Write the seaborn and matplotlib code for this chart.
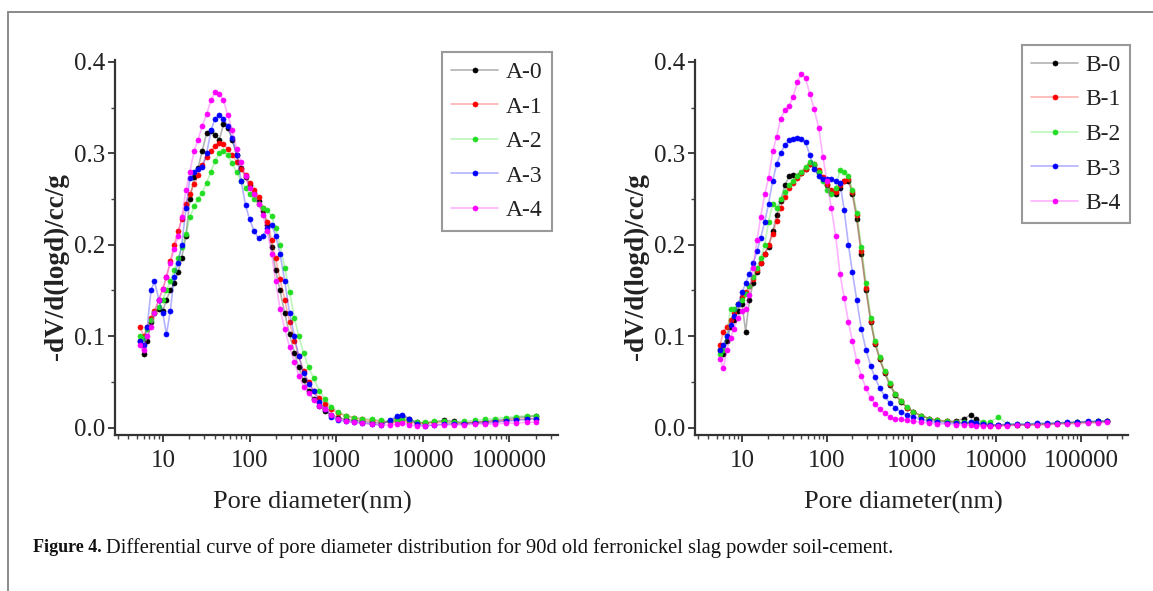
import matplotlib
matplotlib.use("Agg")
import matplotlib.pyplot as plt
import matplotlib.ticker as mticker
from matplotlib.lines import Line2D
import seaborn as sns

# pore diameters (nm) shared by all samples
diam = [5.5, 6, 6.6, 7.3, 8, 9, 10, 11, 12.2, 13.5,
        15, 16.5, 18.5, 20.5, 23, 25.5, 28.5, 32, 36, 40,
        45, 50, 56, 63, 71, 80, 90, 100, 113, 127,
        143, 160, 180, 200, 225, 255, 290, 330, 370, 420,
        480, 550, 640, 750, 880, 1050, 1300, 1600, 2000, 2600,
        3300, 4200, 5000, 5800, 7000, 8500, 10500, 13500, 17500, 23000,
        30000, 40000, 52000, 68000, 90000, 120000, 160000, 200000]

a0 = [0.095, 0.080, 0.095, 0.115, 0.125, 0.130, 0.128, 0.140, 0.150, 0.158,
      0.170, 0.186, 0.210, 0.250, 0.274, 0.284, 0.303, 0.322, 0.324, 0.320,
      0.315, 0.332, 0.328, 0.315, 0.298, 0.284, 0.274, 0.265, 0.257, 0.248,
      0.237, 0.222, 0.198, 0.172, 0.150, 0.125, 0.102, 0.082, 0.066, 0.052,
      0.040, 0.031, 0.024, 0.018, 0.014, 0.011, 0.009, 0.008, 0.007, 0.006,
      0.005, 0.007, 0.011, 0.013, 0.009, 0.006, 0.005, 0.006, 0.008, 0.007,
      0.005, 0.006, 0.007, 0.008, 0.009, 0.011, 0.012, 0.013]
a1 = [0.110, 0.100, 0.110, 0.120, 0.128, 0.140, 0.152, 0.165, 0.182, 0.200,
      0.215, 0.228, 0.245, 0.256, 0.266, 0.276, 0.287, 0.296, 0.303, 0.308,
      0.311, 0.310, 0.305, 0.298, 0.291, 0.283, 0.276, 0.268, 0.260, 0.252,
      0.240, 0.225, 0.205, 0.185, 0.162, 0.140, 0.115, 0.095, 0.078, 0.062,
      0.050, 0.040, 0.032, 0.026, 0.020, 0.016, 0.013, 0.011, 0.009, 0.008,
      0.007, 0.006, 0.007, 0.008, 0.006, 0.005, 0.005, 0.006, 0.006, 0.005,
      0.005, 0.006, 0.006, 0.007, 0.008, 0.009, 0.010, 0.010]
a2 = [0.100, 0.098, 0.108, 0.118, 0.125, 0.132, 0.140, 0.150, 0.160, 0.172,
      0.185, 0.197, 0.212, 0.230, 0.242, 0.250, 0.257, 0.268, 0.280, 0.292,
      0.300, 0.303, 0.298, 0.289, 0.279, 0.270, 0.262, 0.255, 0.250, 0.245,
      0.240, 0.238, 0.231, 0.218, 0.200, 0.175, 0.148, 0.120, 0.100, 0.082,
      0.066, 0.054, 0.040, 0.031, 0.023, 0.017, 0.013, 0.011, 0.010, 0.009,
      0.008, 0.007, 0.008, 0.010, 0.008, 0.006, 0.006, 0.007, 0.007, 0.006,
      0.007, 0.008, 0.009, 0.010, 0.011, 0.012, 0.013, 0.013]
a3 = [0.095, 0.090, 0.110, 0.150, 0.160, 0.140, 0.125, 0.102, 0.128, 0.165,
      0.180, 0.200, 0.240, 0.273, 0.280, 0.283, 0.285, 0.300, 0.325, 0.338,
      0.342, 0.338, 0.330, 0.317, 0.298, 0.270, 0.243, 0.228, 0.215, 0.207,
      0.210, 0.218, 0.222, 0.210, 0.190, 0.160, 0.125, 0.100, 0.078, 0.060,
      0.048, 0.040, 0.028, 0.020, 0.012, 0.008, 0.007, 0.006, 0.005, 0.004,
      0.003, 0.008, 0.013, 0.014, 0.010, 0.004, 0.002, 0.003, 0.004, 0.004,
      0.004, 0.005, 0.005, 0.006, 0.007, 0.008, 0.009, 0.010]
a4 = [0.090, 0.085, 0.100, 0.110, 0.125, 0.140, 0.152, 0.165, 0.180, 0.195,
      0.210, 0.230, 0.260, 0.280, 0.303, 0.315, 0.330, 0.343, 0.358, 0.367,
      0.365, 0.358, 0.342, 0.325, 0.305, 0.290, 0.275, 0.262, 0.255, 0.245,
      0.232, 0.215, 0.190, 0.160, 0.130, 0.108, 0.088, 0.072, 0.057, 0.045,
      0.038, 0.030, 0.024, 0.020, 0.014, 0.010, 0.007, 0.006, 0.005, 0.004,
      0.003, 0.003, 0.004, 0.005, 0.003, 0.002, 0.002, 0.003, 0.003, 0.003,
      0.003, 0.004, 0.004, 0.004, 0.005, 0.005, 0.006, 0.006]

b0 = [0.085, 0.080, 0.095, 0.110, 0.118, 0.128, 0.135, 0.105, 0.140, 0.158,
      0.170, 0.180, 0.190, 0.198, 0.215, 0.232, 0.248, 0.265, 0.275, 0.276,
      0.275, 0.278, 0.283, 0.288, 0.287, 0.280, 0.272, 0.265, 0.258, 0.256,
      0.262, 0.270, 0.270, 0.255, 0.228, 0.190, 0.150, 0.115, 0.092, 0.075,
      0.060, 0.047, 0.036, 0.028, 0.022, 0.017, 0.013, 0.010, 0.008, 0.007,
      0.007, 0.010, 0.014, 0.010, 0.005, 0.003, 0.003, 0.003, 0.003, 0.003,
      0.004, 0.004, 0.005, 0.005, 0.006, 0.006, 0.007, 0.007]
b1 = [0.090, 0.105, 0.110, 0.118, 0.125, 0.135, 0.143, 0.148, 0.155, 0.163,
      0.172, 0.180, 0.190, 0.200, 0.212, 0.226, 0.240, 0.252, 0.262, 0.268,
      0.273, 0.278, 0.283, 0.288, 0.288, 0.282, 0.274, 0.266, 0.260, 0.258,
      0.265, 0.270, 0.272, 0.258, 0.232, 0.193, 0.153, 0.117, 0.093, 0.076,
      0.061, 0.048, 0.037, 0.029, 0.022, 0.017, 0.013, 0.010, 0.008, 0.007,
      0.006, 0.005, 0.005, 0.004, 0.003, 0.002, 0.002, 0.003, 0.003, 0.003,
      0.003, 0.004, 0.004, 0.005, 0.005, 0.006, 0.006, 0.007]
b2 = [0.080, 0.085, 0.100, 0.130, 0.130, 0.135, 0.140, 0.146, 0.155, 0.165,
      0.175, 0.185, 0.200, 0.225, 0.245, 0.240, 0.250, 0.258, 0.265, 0.270,
      0.275, 0.280, 0.285, 0.290, 0.288, 0.280, 0.270, 0.260, 0.255, 0.262,
      0.282, 0.280, 0.275, 0.260, 0.235, 0.198, 0.158, 0.120, 0.095, 0.077,
      0.062, 0.049, 0.037, 0.029, 0.023, 0.017, 0.013, 0.010, 0.008, 0.007,
      0.006, 0.006, 0.006, 0.005, 0.006, 0.006, 0.012, 0.004, 0.004, 0.004,
      0.004, 0.004, 0.005, 0.005, 0.006, 0.006, 0.007, 0.007]
b3 = [0.085, 0.090, 0.100, 0.112, 0.122, 0.135, 0.148, 0.158, 0.168, 0.180,
      0.193, 0.207, 0.225, 0.245, 0.270, 0.288, 0.300, 0.309, 0.314, 0.316,
      0.317, 0.316, 0.312, 0.298, 0.283, 0.275, 0.272, 0.272, 0.272, 0.270,
      0.268, 0.238, 0.200, 0.170, 0.140, 0.108, 0.085, 0.067, 0.055, 0.043,
      0.035, 0.027, 0.022, 0.017, 0.014, 0.012, 0.009, 0.007, 0.006, 0.005,
      0.005, 0.005, 0.006, 0.005, 0.004, 0.003, 0.003, 0.004, 0.004, 0.004,
      0.005, 0.005, 0.005, 0.006, 0.006, 0.007, 0.007, 0.007]
b4 = [0.075, 0.065, 0.085, 0.098, 0.108, 0.120, 0.128, 0.130, 0.145, 0.175,
      0.205, 0.230, 0.255, 0.273, 0.302, 0.318, 0.338, 0.347, 0.352, 0.362,
      0.378, 0.387, 0.382, 0.365, 0.348, 0.328, 0.296, 0.270, 0.240, 0.210,
      0.168, 0.142, 0.115, 0.095, 0.073, 0.057, 0.043, 0.032, 0.026, 0.020,
      0.016, 0.012, 0.010, 0.009, 0.008, 0.007, 0.006, 0.005, 0.004, 0.004,
      0.003, 0.003, 0.003, 0.002, 0.002, 0.002, 0.002, 0.002, 0.003, 0.003,
      0.003, 0.003, 0.004, 0.004, 0.004, 0.005, 0.005, 0.006]

labels_a = ["A-0", "A-1", "A-2", "A-3", "A-4"]
labels_b = ["B-0", "B-1", "B-2", "B-3", "B-4"]
colors = ["#000000", "#ff0000", "#22dd22", "#0000ff", "#ff00ff"]

sns.set_theme(style="ticks")
plt.rcParams["font.family"] = ["Liberation Serif", "DejaVu Serif"]

fig = plt.figure(figsize=(11.53, 5.91), dpi=100)
ax1 = fig.add_axes([0.0997, 0.264, 0.384, 0.6345])
ax2 = fig.add_axes([0.603, 0.264, 0.3755, 0.6345])

panels = [
    (ax1, [a0, a1, a2, a3, a4], labels_a, (0.986, 1.021), 0.447, -0.104),
    (ax2, [b0, b1, b2, b3, b4], labels_b, (1.005, 1.040), 0.48, -0.108),
]

for ax, series, labels, leg_pos, xlab_x, ylab_x in panels:
    for vals, lab, c in zip(series, labels, colors):
        rgb = matplotlib.colors.to_rgb(c)
        sns.lineplot(x=diam, y=vals, ax=ax, color=rgb + (0.3,), linewidth=1.2,
                     marker="o", markersize=3.6, markerfacecolor=c,
                     markeredgecolor=c, markeredgewidth=0.5,
                     label=lab, estimator=None, sort=False)
    ax.set_xscale("log")
    ax.set_xlim(2.8, 3.6e5)
    ax.set_ylim(-0.008, 0.402)
    ax.set_yticks([0.0, 0.1, 0.2, 0.3, 0.4])
    ax.yaxis.set_major_formatter(mticker.FormatStrFormatter("%.1f"))
    ax.yaxis.set_minor_locator(mticker.MultipleLocator(0.05))
    ax.set_xticks([10, 100, 1000, 10000, 100000])
    ax.xaxis.set_major_formatter(mticker.FuncFormatter(lambda v, p: "%d" % v))
    ax.xaxis.set_minor_locator(mticker.LogLocator(base=10, subs=range(2, 10), numticks=20))
    ax.xaxis.set_minor_formatter(mticker.NullFormatter())
    ax.tick_params(axis="both", which="major", labelsize=18, length=5, width=1.3,
                   color="#333333", labelcolor="#222222", pad=6, direction="out")
    ax.tick_params(axis="y", which="major", pad=2)
    ax.tick_params(axis="both", which="minor", length=3, width=1.0, color="#444444")
    for s in ["top", "right"]:
        ax.spines[s].set_visible(False)
    for s in ["left", "bottom"]:
        ax.spines[s].set_linewidth(1.6)
        ax.spines[s].set_color("#333333")
    ax.set_xlabel("Pore diameter(nm)", fontsize=19, color="#222222")
    ax.xaxis.set_label_coords(xlab_x, -0.15)
    ax.set_ylabel("-dV/d(logd)/cc/g", fontsize=19.5, fontweight="bold", color="#222222")
    ax.yaxis.set_label_coords(ylab_x, 0.45)
    leg = ax.legend(loc="upper right", bbox_to_anchor=leg_pos, borderaxespad=0,
                    fontsize=17, handlelength=2.0, handletextpad=0.3,
                    labelspacing=0.55, fancybox=False, framealpha=1,
                    edgecolor="#999999", borderpad=0.4)
    leg.get_frame().set_linewidth(1.5)
    for t in leg.get_texts():
        t.set_color("#222222")

# figure frame (top and left edges)
fy = 1 - 12 / 591
fx = 8 / 1153
fig.add_artist(Line2D([fx, 1], [fy, fy], transform=fig.transFigure, color="#8a8a8a", lw=1.4))
fig.add_artist(Line2D([fx, fx], [0, fy], transform=fig.transFigure, color="#8a8a8a", lw=1.4))

# caption
cap_y = 1 - 548 / 591
t1 = fig.text(33 / 1153, cap_y, "Figure 4.", fontsize=13, fontweight="bold",
              va="center", ha="left", color="#111111")
fig.canvas.draw()
bb = t1.get_window_extent(renderer=fig.canvas.get_renderer())
fig.text((bb.x1 + 4) / fig.bbox.width, cap_y,
         "Differential curve of pore diameter distribution for 90d old ferronickel slag powder soil-cement.",
         fontsize=14.8, va="center", ha="left", color="#111111")

fig.savefig("out.png", dpi=100)
